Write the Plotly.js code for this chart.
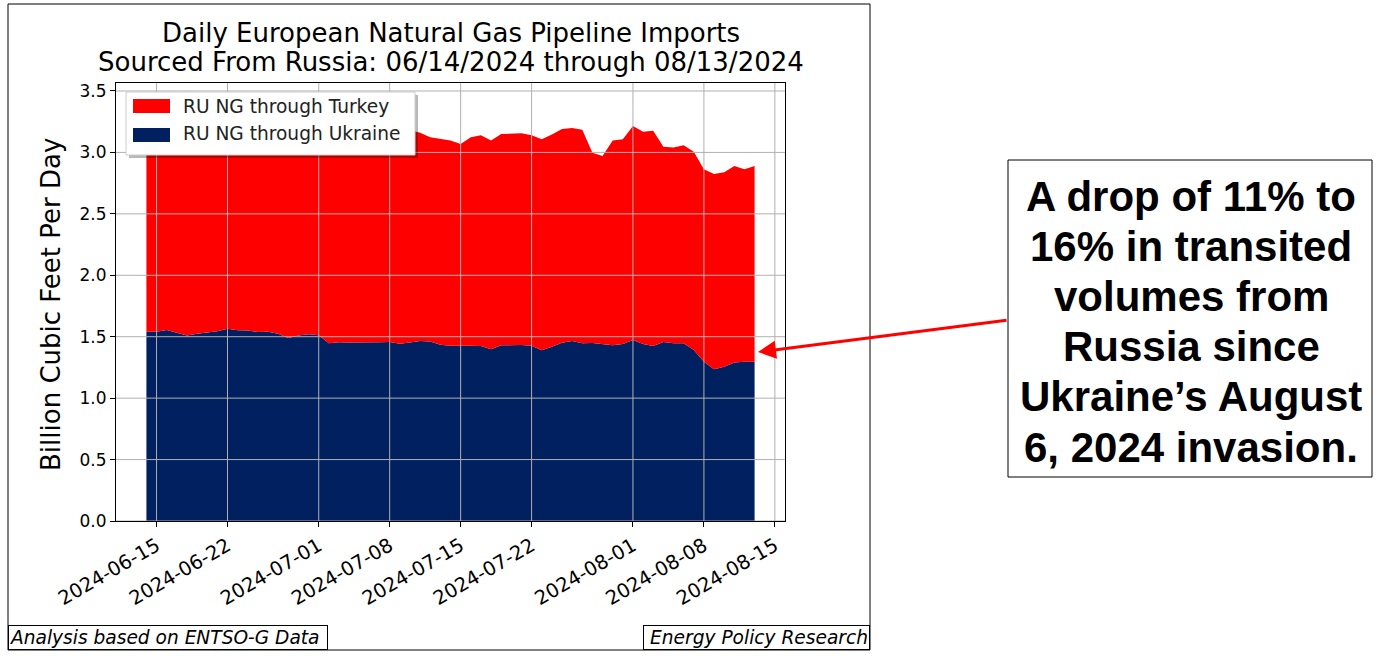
<!DOCTYPE html>
<html>
<head>
<meta charset="utf-8">
<script src="https://cdn.plot.ly/plotly-3.0.1.min.js"></script>
<style>
  html, body { margin: 0; padding: 0; background: #fff; }
  #chart { width: 1387px; height: 656px; }
</style>
</head>
<body>
<div id="chart"></div>
<script>
// daily values, 2024-06-14 .. 2024-08-13 (bcf/d)
var dates = [
  "2024-06-14","2024-06-15","2024-06-16","2024-06-17","2024-06-18","2024-06-19","2024-06-20",
  "2024-06-21","2024-06-22","2024-06-23","2024-06-24","2024-06-25","2024-06-26","2024-06-27",
  "2024-06-28","2024-06-29","2024-06-30","2024-07-01","2024-07-02","2024-07-03","2024-07-04",
  "2024-07-05","2024-07-06","2024-07-07","2024-07-08","2024-07-09","2024-07-10","2024-07-11",
  "2024-07-12","2024-07-13","2024-07-14","2024-07-15","2024-07-16","2024-07-17","2024-07-18",
  "2024-07-19","2024-07-20","2024-07-21","2024-07-22","2024-07-23","2024-07-24","2024-07-25",
  "2024-07-26","2024-07-27","2024-07-28","2024-07-29","2024-07-30","2024-07-31","2024-08-01",
  "2024-08-02","2024-08-03","2024-08-04","2024-08-05","2024-08-06","2024-08-07","2024-08-08",
  "2024-08-09","2024-08-10","2024-08-11","2024-08-12","2024-08-13"
];

var ukraine = [
  1.540,1.540,1.555,1.533,1.510,1.525,1.533,
  1.545,1.565,1.553,1.550,1.538,1.541,1.525,
  1.490,1.510,1.520,1.512,1.446,1.455,1.452,
  1.451,1.451,1.455,1.457,1.443,1.452,1.465,
  1.460,1.435,1.427,1.430,1.427,1.425,1.397,
  1.430,1.433,1.433,1.427,1.389,1.419,1.451,
  1.465,1.446,1.449,1.441,1.430,1.441,1.473,
  1.441,1.424,1.457,1.446,1.446,1.391,1.297,
  1.235,1.255,1.291,1.297,1.297
];

var turkey = [
  1.680,1.700,1.695,1.697,1.710,1.715,1.727,
  1.705,1.675,1.677,1.700,1.722,1.699,1.695,
  1.720,1.720,1.720,1.708,1.754,1.755,1.768,
  1.759,1.749,1.755,1.763,1.757,1.728,1.695,
  1.663,1.672,1.669,1.639,1.696,1.714,1.699,
  1.720,1.723,1.723,1.712,1.718,1.726,1.739,
  1.734,1.739,1.549,1.530,1.666,1.666,1.742,
  1.728,1.753,1.590,1.594,1.612,1.615,1.565,
  1.589,1.583,1.598,1.565,1.592
];

var seriesNames = ["RU NG through Turkey", "RU NG through Ukraine"];
var seriesColors = ["#ff0000", "#002060"];

var xTicks = ["2024-06-15","2024-06-22","2024-07-01","2024-07-08","2024-07-15",
              "2024-07-22","2024-08-01","2024-08-08","2024-08-15"];
var yTicks = [0, 0.5, 1.0, 1.5, 2.0, 2.5, 3.0, 3.5];

var titleLines = ["Daily European Natural Gas Pipeline Imports",
                  "Sourced From Russia: 06/14/2024 through 08/13/2024"];
var noteLines = ["A drop of 11% to", "16% in transited", "volumes from",
                 "Russia since", "Ukraine\u2019s August", "6, 2024 invasion."];

var W = 1387, H = 656;
function px(x) { return x / W; }
function py(y) { return 1 - y / H; }

function paperRect(x0, y0, x1, y1, fill, line, layer) {
  return {type: "rect", xref: "paper", yref: "paper",
    x0: px(x0), x1: px(x1), y0: py(y1), y1: py(y0),
    fillcolor: fill, line: line, layer: layer || "above"};
}

function drawChart() {
  var font = "DejaVu Sans, sans-serif";

  var ua = {
    x: dates, y: ukraine,
    type: "scatter", mode: "lines",
    stackgroup: "ru",
    name: seriesNames[1],
    line: {width: 0},
    fillcolor: seriesColors[1]
  };
  var tr = {
    x: dates, y: turkey,
    type: "scatter", mode: "lines",
    stackgroup: "ru",
    name: seriesNames[0],
    line: {width: 0},
    fillcolor: seriesColors[0]
  };

  // grid sits on top of the fill, like the original
  var shapes = [];
  xTicks.forEach(function (t) {
    shapes.push({type: "line", xref: "x", yref: "paper", x0: t, x1: t,
      y0: py(521), y1: py(83), layer: "above", line: {color: "#b0b0b0", width: 1}});
  });
  yTicks.forEach(function (v) {
    shapes.push({type: "line", xref: "paper", yref: "y", x0: px(116), x1: px(785),
      y0: v, y1: v, layer: "above", line: {color: "#b0b0b0", width: 1}});
  });

  // figure frame
  shapes.push(paperRect(8, 4, 870, 650, "rgba(0,0,0,0)", {color: "#000", width: 1}, "below"));

  // legend: shadow, box, colour patches
  shapes.push(paperRect(129, 95, 418, 158, "rgba(0,0,0,0.28)", {width: 0}));
  shapes.push(paperRect(126, 92, 415, 155, "#ffffff", {color: "#cccccc", width: 1}));
  shapes.push(paperRect(133, 99, 170, 113, seriesColors[0], {width: 0}));
  shapes.push(paperRect(133, 128, 170, 142, seriesColors[1], {width: 0}));

  // note box
  shapes.push(paperRect(1008, 160, 1372, 477, "#ffffff", {color: "#000", width: 1}));

  var annotations = [];
  titleLines.forEach(function (t, i) {
    annotations.push({text: t, xref: "paper", yref: "paper",
      x: px(451), y: py(33 + 29 * i), xanchor: "center", yanchor: "middle",
      showarrow: false, font: {family: font, size: 26, color: "#000"}});
  });
  annotations.push({text: "Billion Cubic Feet Per Day", textangle: -90,
    xref: "paper", yref: "paper", x: px(51), y: py(305), xanchor: "center", yanchor: "middle",
    showarrow: false, font: {family: font, size: 26, color: "#000"}});

  seriesNames.forEach(function (n, i) {
    annotations.push({text: n, xref: "paper", yref: "paper",
      x: px(181), y: py(107 + 27 * i), xanchor: "left", yanchor: "middle",
      showarrow: false, font: {family: font, size: 18.6, color: "#222"}});
  });

  annotations.push({text: "Analysis based on ENTSO-G Data",
    xref: "paper", yref: "paper", x: px(8), y: py(650), xanchor: "left", yanchor: "bottom",
    showarrow: false, bgcolor: "#fff", bordercolor: "#000", borderwidth: 1, borderpad: 1,
    width: 316, height: 21, align: "left",
    font: {family: font, size: 18.6, color: "#000", style: "italic"}});
  annotations.push({text: "Energy Policy Research",
    xref: "paper", yref: "paper", x: px(870), y: py(650), xanchor: "right", yanchor: "bottom",
    showarrow: false, bgcolor: "#fff", bordercolor: "#000", borderwidth: 1, borderpad: 1,
    width: 223, height: 21, align: "right",
    font: {family: font, size: 18.6, color: "#000", style: "italic"}});

  noteLines.forEach(function (t, i) {
    annotations.push({text: t, xref: "paper", yref: "paper",
      x: px(1191), y: py(196 + 50.2 * i), xanchor: "center", yanchor: "middle",
      showarrow: false,
      font: {family: "Liberation Sans, Arial, sans-serif", size: 42, color: "#000", weight: "bold"}});
  });

  annotations.push({text: "", xref: "paper", yref: "paper", x: px(758), y: py(352),
    ax: 250, ay: -32, showarrow: true, arrowhead: 2, arrowsize: 1.2, arrowwidth: 3,
    arrowcolor: "#ff0000"});

  var layout = {
    width: W, height: H,
    margin: {l: 0, r: 0, t: 0, b: 0},
    paper_bgcolor: "#fff",
    plot_bgcolor: "#fff",
    showlegend: false,
    xaxis: {
      type: "date",
      domain: [px(116), px(785)],
      range: ["2024-06-11", "2024-08-16"],
      tickvals: xTicks,
      ticktext: xTicks,
      tickangle: -30,
      ticks: "outside", ticklen: 5, tickcolor: "#000",
      showgrid: false, zeroline: false,
      showline: true, linecolor: "#000", linewidth: 1, mirror: true,
      tickfont: {family: font, size: 19.5, color: "#000"},
      fixedrange: true
    },
    yaxis: {
      domain: [py(521), py(83)],
      range: [0, 3.565],
      tickvals: yTicks,
      tickformat: ".1f",
      ticks: "outside", ticklen: 5, tickcolor: "#000",
      showgrid: false, zeroline: false,
      showline: true, linecolor: "#000", linewidth: 1, mirror: true,
      tickfont: {family: font, size: 17, color: "#000"},
      fixedrange: true
    },
    shapes: shapes,
    annotations: annotations
  };

  Plotly.newPlot("chart", [ua, tr], layout, {displayModeBar: false, staticPlot: true});
}

drawChart();
</script>
</body>
</html>
